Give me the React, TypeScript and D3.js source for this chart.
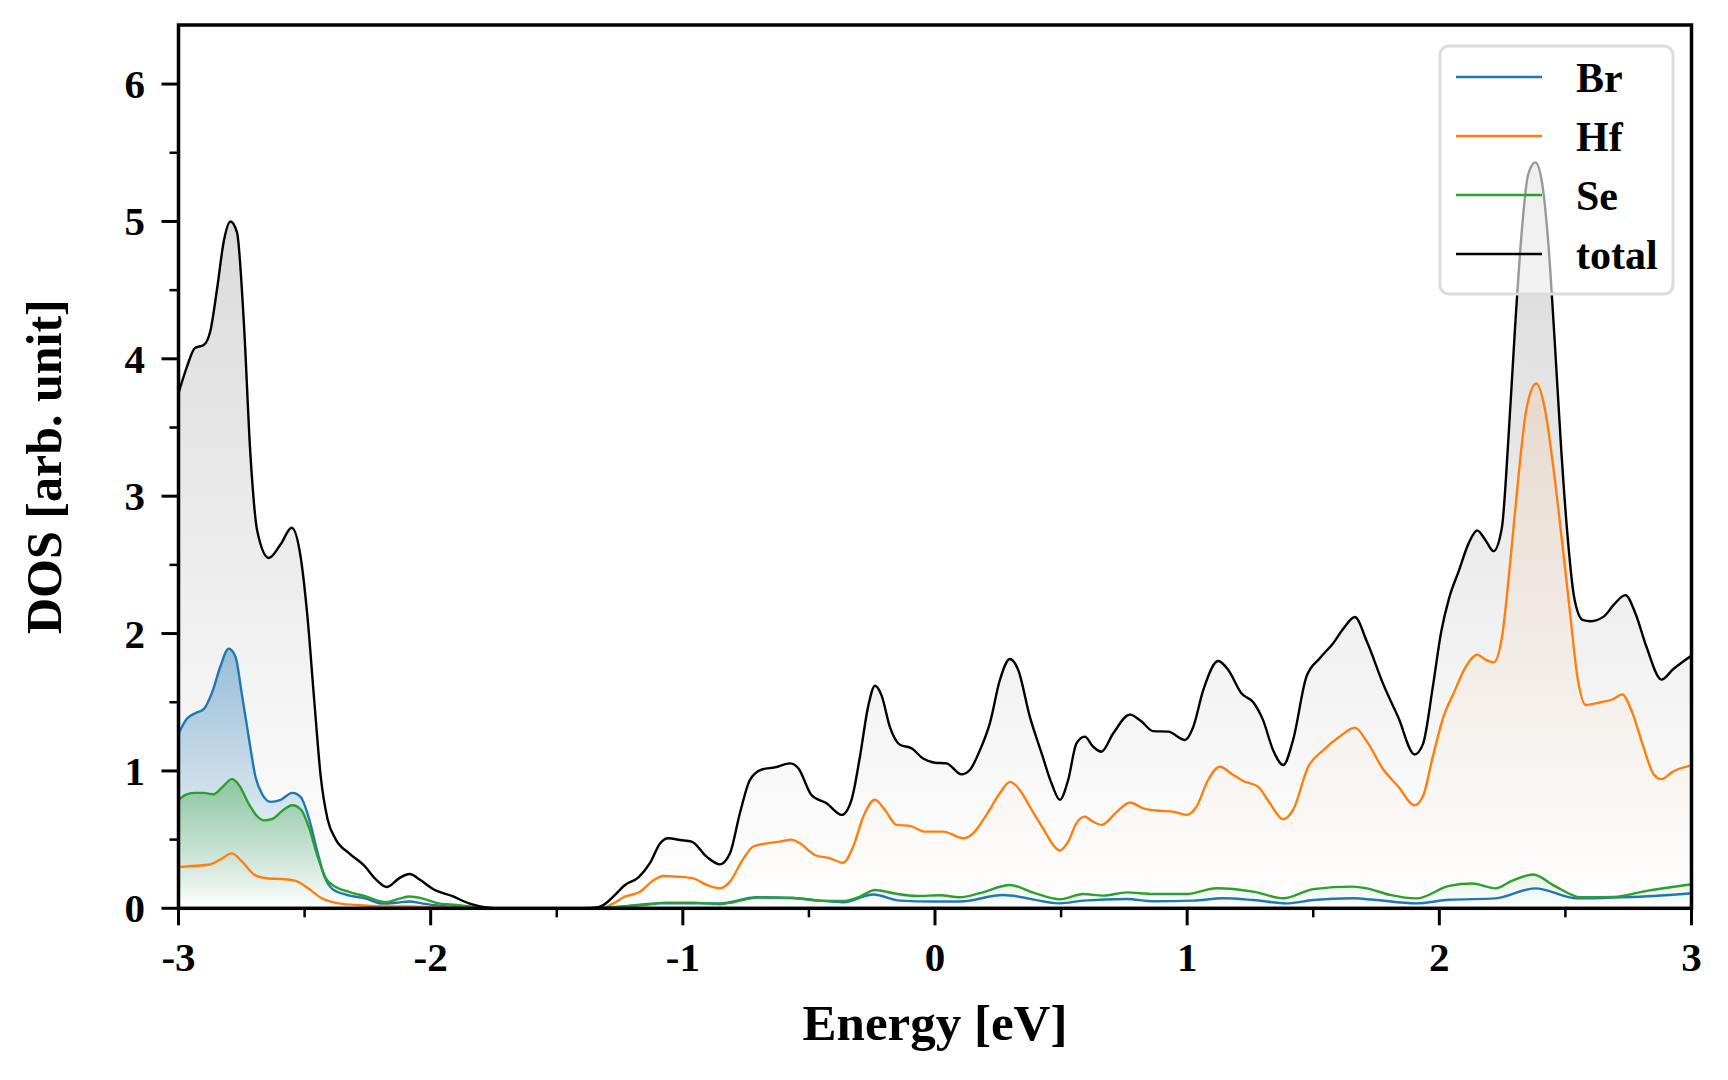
import React from "react";
import * as d3 from "d3";

// ---------- data (Energy [eV], DOS) ----------
const seriesNames = ["Br", "Hf", "Se", "total"];
const seriesColors = ["#1f77b4", "#ff7f0e", "#2ca02c", "#000000"];

const brDOS: [number, number][] = [
  [-3, 1.27], [-2.967, 1.38], [-2.934, 1.42], [-2.9, 1.45], [-2.867, 1.57], [-2.834, 1.76],
  [-2.801, 1.89], [-2.774, 1.83], [-2.748, 1.55], [-2.721, 1.24], [-2.695, 0.96], [-2.668, 0.83],
  [-2.635, 0.775], [-2.595, 0.79], [-2.549, 0.84], [-2.515, 0.81], [-2.482, 0.65], [-2.449, 0.41],
  [-2.423, 0.24], [-2.389, 0.14], [-2.336, 0.1], [-2.257, 0.07], [-2.19, 0.034], [-2.137, 0.04],
  [-2.084, 0.05], [-2.031, 0.034], [-1.951, 0.017], [-1.845, 0.003], [-1.75, 0], [-1.45, 0],
  [-1.3155, 0.002], [-1.091, 0.036], [-0.853, 0.036], [-0.707, 0.08], [-0.562, 0.075], [-0.456, 0.056],
  [-0.364, 0.044], [-0.245, 0.1], [-0.139, 0.056], [-0.007, 0.049], [0.099, 0.049], [0.27, 0.097],
  [0.495, 0.036], [0.588, 0.056], [0.76, 0.068], [0.865, 0.051], [1.024, 0.056], [1.143, 0.073],
  [1.262, 0.06], [1.394, 0.036], [1.5, 0.06], [1.658, 0.073], [1.739, 0.062], [1.909, 0.036],
  [2.039, 0.062], [2.222, 0.072], [2.379, 0.145], [2.548, 0.072], [2.718, 0.08], [2.849, 0.09],
  [3, 0.11],
];

const hfDOS: [number, number][] = [
  [-3, 0.3], [-2.934, 0.31], [-2.88, 0.317], [-2.834, 0.355], [-2.788, 0.4], [-2.748, 0.34],
  [-2.695, 0.24], [-2.642, 0.217], [-2.589, 0.213], [-2.535, 0.2], [-2.482, 0.14], [-2.429, 0.07],
  [-2.376, 0.04], [-2.297, 0.024], [-2.19, 0.014], [-2.084, 0.014], [-1.978, 0.007], [-1.845, 0],
  [-1.38, 0], [-1.3155, 0.004], [-1.2758, 0.036], [-1.2296, 0.085], [-1.1701, 0.12], [-1.1238, 0.194],
  [-1.0776, 0.235], [-1.0181, 0.23], [-0.9586, 0.218], [-0.9058, 0.17], [-0.8529, 0.146], [-0.8132, 0.194],
  [-0.767, 0.34], [-0.7207, 0.45], [-0.6678, 0.473], [-0.615, 0.485], [-0.5687, 0.5], [-0.5357, 0.473],
  [-0.4762, 0.388], [-0.4167, 0.364], [-0.3639, 0.332], [-0.3242, 0.45], [-0.2846, 0.667], [-0.2383, 0.79],
  [-0.1986, 0.716], [-0.1524, 0.607], [-0.0995, 0.6], [-0.04, 0.558], [0.0327, 0.558], [0.112, 0.51],
  [0.151, 0.546], [0.204, 0.68], [0.257, 0.837], [0.297, 0.92], [0.337, 0.86], [0.376, 0.74],
  [0.429, 0.58], [0.469, 0.46], [0.495, 0.42], [0.528, 0.485], [0.561, 0.62], [0.594, 0.667],
  [0.627, 0.63], [0.66, 0.607], [0.72, 0.7], [0.773, 0.77], [0.826, 0.728], [0.892, 0.71],
  [0.944, 0.704], [0.997, 0.68], [1.037, 0.74], [1.083, 0.934], [1.13, 1.03], [1.176, 0.98],
  [1.222, 0.927], [1.281, 0.886], [1.328, 0.764], [1.381, 0.648], [1.42, 0.716], [1.48, 1.03],
  [1.539, 1.15], [1.605, 1.25], [1.665, 1.315], [1.713, 1.213], [1.778, 1.01], [1.837, 0.887],
  [1.902, 0.75], [1.935, 0.815], [1.974, 1.104], [2.013, 1.376], [2.059, 1.575], [2.104, 1.756],
  [2.15, 1.846], [2.183, 1.81], [2.215, 1.79], [2.248, 1.97], [2.281, 2.516], [2.313, 3.13],
  [2.346, 3.64], [2.385, 3.82], [2.418, 3.64], [2.45, 3.24], [2.483, 2.73], [2.516, 2.19],
  [2.548, 1.68], [2.581, 1.48], [2.64, 1.5], [2.686, 1.52], [2.725, 1.557], [2.764, 1.43],
  [2.809, 1.177], [2.849, 0.978], [2.881, 0.94], [2.927, 0.996], [3, 1.04],
];

const seDOS: [number, number][] = [
  [-3, 0.79], [-2.967, 0.83], [-2.934, 0.84], [-2.9, 0.84], [-2.861, 0.83], [-2.827, 0.88],
  [-2.788, 0.94], [-2.761, 0.9], [-2.721, 0.76], [-2.688, 0.67], [-2.661, 0.64], [-2.628, 0.65],
  [-2.588, 0.71], [-2.549, 0.75], [-2.515, 0.72], [-2.482, 0.585], [-2.449, 0.38], [-2.416, 0.22],
  [-2.376, 0.155], [-2.323, 0.12], [-2.257, 0.086], [-2.177, 0.045], [-2.124, 0.07], [-2.084, 0.086],
  [-2.031, 0.07], [-1.978, 0.04], [-1.898, 0.024], [-1.805, 0.007], [-1.7, 0], [-1.45, 0],
  [-1.3155, 0.005], [-1.157, 0.024], [-1.064, 0.041], [-0.959, 0.041], [-0.853, 0.03], [-0.8, 0.044],
  [-0.707, 0.078], [-0.562, 0.075], [-0.456, 0.056], [-0.364, 0.053], [-0.298, 0.085], [-0.238, 0.133],
  [-0.166, 0.11], [-0.073, 0.09], [0.019, 0.095], [0.099, 0.08], [0.178, 0.11], [0.297, 0.17],
  [0.39, 0.114], [0.495, 0.065], [0.588, 0.104], [0.667, 0.092], [0.76, 0.116], [0.865, 0.104],
  [0.997, 0.104], [1.116, 0.146], [1.262, 0.121], [1.381, 0.073], [1.5, 0.14], [1.658, 0.158],
  [1.713, 0.145], [1.804, 0.098], [1.909, 0.072], [2.039, 0.163], [2.131, 0.18], [2.222, 0.145],
  [2.287, 0.2], [2.372, 0.246], [2.457, 0.163], [2.561, 0.08], [2.692, 0.083], [2.822, 0.127],
  [3, 0.175],
];

const totalDOS: [number, number][] = [
  [-3, 3.75], [-2.967, 3.94], [-2.934, 4.08], [-2.9, 4.1], [-2.874, 4.2], [-2.847, 4.51],
  [-2.82, 4.86], [-2.794, 5.0], [-2.768, 4.92], [-2.741, 4.27], [-2.715, 3.31], [-2.688, 2.75],
  [-2.642, 2.55], [-2.595, 2.65], [-2.551, 2.77], [-2.515, 2.55], [-2.489, 2.13], [-2.462, 1.52],
  [-2.436, 0.96], [-2.409, 0.65], [-2.376, 0.5], [-2.323, 0.4], [-2.263, 0.31], [-2.217, 0.21],
  [-2.174, 0.155], [-2.124, 0.22], [-2.084, 0.25], [-2.044, 0.21], [-1.991, 0.14], [-1.911, 0.086],
  [-1.845, 0.034], [-1.78, 0.007], [-1.72, 0], [-1.4, 0], [-1.355, 0.002], [-1.315, 0.024],
  [-1.276, 0.085], [-1.229, 0.17], [-1.177, 0.223], [-1.13, 0.33], [-1.091, 0.47], [-1.058, 0.51],
  [-1.011, 0.497], [-0.965, 0.485], [-0.906, 0.376], [-0.853, 0.32], [-0.813, 0.4], [-0.774, 0.69],
  [-0.734, 0.934], [-0.688, 1.01], [-0.635, 1.026], [-0.575, 1.055], [-0.542, 1.02], [-0.49, 0.825],
  [-0.43, 0.764], [-0.37, 0.68], [-0.331, 0.79], [-0.298, 1.1], [-0.265, 1.47], [-0.238, 1.62],
  [-0.212, 1.55], [-0.179, 1.32], [-0.139, 1.19], [-0.093, 1.165], [-0.047, 1.09], [0.0, 1.06],
  [0.046, 1.055], [0.105, 0.975], [0.138, 1.007], [0.178, 1.15], [0.218, 1.35], [0.257, 1.66],
  [0.297, 1.815], [0.33, 1.735], [0.376, 1.395], [0.423, 1.128], [0.462, 0.91], [0.495, 0.79],
  [0.528, 0.934], [0.561, 1.2], [0.594, 1.25], [0.627, 1.177], [0.66, 1.14], [0.707, 1.274],
  [0.773, 1.41], [0.819, 1.36], [0.865, 1.29], [0.925, 1.286], [0.991, 1.225], [1.024, 1.32],
  [1.064, 1.59], [1.123, 1.8], [1.163, 1.735], [1.215, 1.565], [1.262, 1.5], [1.301, 1.37],
  [1.341, 1.15], [1.381, 1.043], [1.42, 1.225], [1.473, 1.686], [1.526, 1.82], [1.579, 1.93],
  [1.625, 2.05], [1.665, 2.12], [1.713, 1.94], [1.778, 1.63], [1.837, 1.39], [1.902, 1.12],
  [1.935, 1.195], [1.974, 1.61], [2.007, 2.01], [2.039, 2.26], [2.078, 2.46], [2.117, 2.66],
  [2.15, 2.75], [2.183, 2.68], [2.215, 2.6], [2.248, 2.77], [2.274, 3.42], [2.3, 4.22],
  [2.326, 4.906], [2.352, 5.34], [2.381, 5.43], [2.407, 5.286], [2.431, 4.87], [2.457, 4.145],
  [2.483, 3.35], [2.509, 2.7], [2.535, 2.26], [2.568, 2.1], [2.6, 2.09], [2.653, 2.125],
  [2.692, 2.21], [2.738, 2.28], [2.777, 2.15], [2.822, 1.9], [2.881, 1.665], [2.927, 1.74],
  [3, 1.84],
];

const xTickValues = [-3, -2, -1, 0, 1, 2, 3];
const xMinorTicks = [-2.5, -1.5, -0.5, 0.5, 1.5, 2.5];
const yTickValues = [0, 1, 2, 3, 4, 5, 6];
const yMinorTicks = [0.5, 1.5, 2.5, 3.5, 4.5, 5.5];
const xLabel = "Energy [eV]";
const yLabel = "DOS [arb. unit]";

// ---------- layout ----------
const W = 1728;
const H = 1080;
const left = 178.5;
const right = 1691.5;
const top = 25;
const bottom = 908.3;
const FONT = "'Liberation Serif', 'Times New Roman', serif";

export default function App() {
  const x = d3.scaleLinear().domain([-3, 3]).range([left, right]);
  const y = d3.scaleLinear().domain([0, 6.43]).range([bottom, top]);

  const line = d3
    .line<[number, number]>()
    .x((d) => x(d[0]))
    .y((d) => y(d[1]))
    .curve(d3.curveMonotoneX);
  const area = d3
    .area<[number, number]>()
    .x((d) => x(d[0]))
    .y0(y(0))
    .y1((d) => y(d[1]))
    .curve(d3.curveMonotoneX);

  const allSeries = [brDOS, hfDOS, seDOS, totalDOS];
  const fillColors = ["#1f77b4", "#ff7f0e", "#2ca02c", "#6e6e6e"];
  const fillAlpha = [0.42, 0.1, 0.38, 0.27];
  const fillOrder = [3, 0, 1, 2];
  const lineOrder = [0, 1, 2, 3];

  const legendX = 1440;
  const legendY = 46;
  const rowH = 59;

  return (
    <svg
      width={W}
      height={H}
      viewBox={`0 0 ${W} ${H}`}
      style={{ position: "absolute", left: 0, top: 0, background: "#fff" }}
    >
      <defs>
        <clipPath id="plotClip">
          <rect x={left} y={top} width={right - left} height={bottom - top} />
        </clipPath>
        {allSeries.map((s, i) => {
          const mx = d3.max(s, (d) => d[1]) as number;
          return (
            <linearGradient
              key={i}
              id={`grad${i}`}
              gradientUnits="userSpaceOnUse"
              x1={0}
              x2={0}
              y1={y(mx)}
              y2={y(0)}
            >
              <stop offset="0" stopColor={fillColors[i]} stopOpacity={fillAlpha[i]} />
              <stop offset="1" stopColor={fillColors[i]} stopOpacity={0} />
            </linearGradient>
          );
        })}
      </defs>

      <rect x={0} y={0} width={W} height={H} fill="#fff" />

      <g clipPath="url(#plotClip)">
        {fillOrder.map((i) => (
          <path key={`f${i}`} d={area(allSeries[i]) || ""} fill={`url(#grad${i})`} />
        ))}
        {lineOrder.map((i) => (
          <path
            key={`l${i}`}
            d={line(allSeries[i]) || ""}
            fill="none"
            stroke={seriesColors[i]}
            strokeWidth={2.4}
            strokeLinejoin="round"
          />
        ))}
      </g>

      {/* legend */}
      <g>
        <rect
          x={legendX}
          y={legendY}
          width={233}
          height={248}
          rx={9}
          ry={9}
          fill="#fff"
          fillOpacity={0.6}
          stroke="#dcdcdc"
          strokeWidth={3}
        />
        {seriesNames.map((name, i) => {
          const cy = legendY + 31 + i * rowH;
          return (
            <g key={name}>
              <line
                x1={1456}
                x2={1542}
                y1={cy}
                y2={cy}
                stroke={seriesColors[i]}
                strokeWidth={2.5}
              />
              <text
                x={1576}
                y={cy + 15}
                fontFamily={FONT}
                fontWeight="bold"
                fontSize={42}
                fill="#000"
              >
                {name}
              </text>
            </g>
          );
        })}
      </g>

      {/* ticks */}
      {xTickValues.map((v) => (
        <g key={`xt${v}`}>
          <line x1={x(v)} x2={x(v)} y1={bottom} y2={bottom + 17} stroke="#000" strokeWidth={3} />
          <text
            x={x(v)}
            y={971}
            textAnchor="middle"
            fontFamily={FONT}
            fontWeight="bold"
            fontSize={41}
          >
            {v < 0 ? `-${Math.abs(v)}` : `${v}`}
          </text>
        </g>
      ))}
      {xMinorTicks.map((v) => (
        <line key={`xm${v}`} x1={x(v)} x2={x(v)} y1={bottom} y2={bottom + 9} stroke="#000" strokeWidth={2.5} />
      ))}
      {yTickValues.map((v) => (
        <g key={`yt${v}`}>
          <line x1={left - 17} x2={left} y1={y(v)} y2={y(v)} stroke="#000" strokeWidth={3} />
          <text
            x={145}
            y={y(v) + 14}
            textAnchor="end"
            fontFamily={FONT}
            fontWeight="bold"
            fontSize={41}
          >
            {v}
          </text>
        </g>
      ))}
      {yMinorTicks.map((v) => (
        <line key={`ym${v}`} x1={left - 9} x2={left} y1={y(v)} y2={y(v)} stroke="#000" strokeWidth={2.5} />
      ))}

      {/* frame */}
      <rect
        x={left}
        y={top}
        width={right - left}
        height={bottom - top}
        fill="none"
        stroke="#000"
        strokeWidth={3.5}
      />

      {/* axis labels */}
      <text
        x={(left + right) / 2}
        y={1040}
        textAnchor="middle"
        fontFamily={FONT}
        fontWeight="bold"
        fontSize={51}
      >
        {xLabel}
      </text>
      <text
        transform={`translate(61, ${(top + bottom) / 2}) rotate(-90)`}
        textAnchor="middle"
        fontFamily={FONT}
        fontWeight="bold"
        fontSize={50}
      >
        {yLabel}
      </text>
    </svg>
  );
}
